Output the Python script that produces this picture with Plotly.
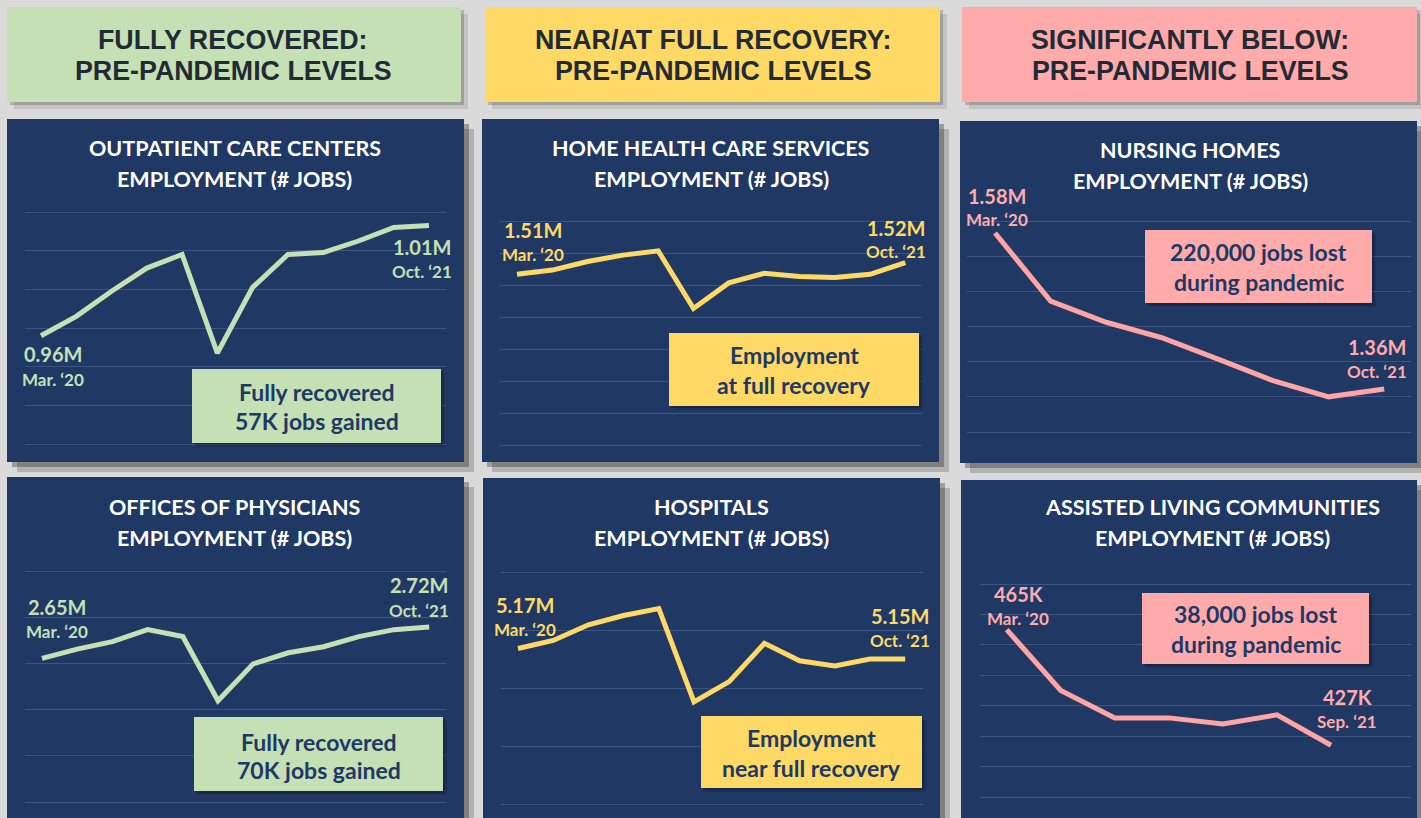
import plotly.graph_objects as go

W, H = 1421, 818

# ---------------- data (thousands of jobs) ----------------
outpatient = [956, 966, 979, 991, 998, 947, 981, 998, 999, 1005, 1012, 1013]
home_health = [1510, 1514, 1522, 1528, 1532, 1478, 1502, 1511, 1508, 1507, 1510, 1521]
nursing = [1583, 1486, 1456, 1434, 1404, 1373, 1350, 1361]
physicians = [2651, 2671, 2687, 2713, 2698, 2559, 2639, 2663, 2676, 2698, 2713, 2719]
hospitals = [5168, 5182, 5209, 5225, 5237, 5076, 5111, 5177, 5147, 5138, 5150, 5150]
assisted = [465, 445, 436, 436, 434, 437, 427]

series = [outpatient, home_health, nursing, physicians, hospitals, assisted]

headers = [
    ["FULLY RECOVERED:", "PRE-PANDEMIC LEVELS"],
    ["NEAR/AT FULL RECOVERY:", "PRE-PANDEMIC LEVELS"],
    ["SIGNIFICANTLY BELOW:", "PRE-PANDEMIC LEVELS"],
]
titles = [
    ["OUTPATIENT CARE CENTERS", "EMPLOYMENT (# JOBS)"],
    ["HOME HEALTH CARE SERVICES", "EMPLOYMENT (# JOBS)"],
    ["NURSING HOMES", "EMPLOYMENT (# JOBS)"],
    ["OFFICES OF PHYSICIANS", "EMPLOYMENT (# JOBS)"],
    ["HOSPITALS", "EMPLOYMENT (# JOBS)"],
    ["ASSISTED LIVING COMMUNITIES", "EMPLOYMENT (# JOBS)"],
]
start_values = ["0.96M", "1.51M", "1.58M", "2.65M", "5.17M", "465K"]
start_dates = ["Mar. \u201820"] * 6
end_values = ["1.01M", "1.52M", "1.36M", "2.72M", "5.15M", "427K"]
end_dates = ["Oct. \u201821", "Oct. \u201821", "Oct. \u201821", "Oct. \u201821", "Oct. \u201821", "Sep. \u201821"]
callouts = [
    ["Fully recovered", "57K jobs gained"],
    ["Employment", "at full recovery"],
    ["220,000 jobs lost", "during pandemic"],
    ["Fully recovered", "70K jobs gained"],
    ["Employment", "near full recovery"],
    ["38,000 jobs lost", "during pandemic"],
]
grid_values = [(900, 1020, 20), (1350, 1560, 30), (1300, 1600, 50),
               (2340, 2840, 100), (4900, 5300, 100), (410, 480, 10)]

# ---------------- styling / layout ----------------
NAVY = "#203864"
GREEN = "#c5e0b4"
YELLOW = "#ffd966"
PINK = "#ffabab"
PINK_LINE = "#ffa5a5"
GRID = "#3e5482"
HEAD_TXT = "#222a35"
col_colors = [GREEN, YELLOW, PINK]
panel_color = [GREEN, YELLOW, PINK_LINE, GREEN, YELLOW, PINK_LINE]
label_color = [GREEN, YELLOW, PINK, GREEN, YELLOW, PINK]

header_boxes = [(7, 7, 461, 102), (485, 7, 940, 102), (962, 7, 1417, 102)]
header_text_pos = [(233, 40, 71), (713, 40, 71), (1190, 40, 71)]
panel_boxes = [(7, 119, 464, 462), (482, 119, 939, 462), (960, 121, 1417, 463),
               (7, 477, 464, 840), (483, 478, 940, 840), (961, 480, 1417, 840)]
# plot area: gridline left, right, top, bottom; first point x, spacing
plot_geo = [
    (25, 446, 212, 444, 41, 35.27),
    (499, 922, 221, 445, 517, 35.3),
    (967, 1411, 221, 432, 995, 55.6),
    (25, 446, 571, 802, 42, 35.2),
    (501, 923, 572, 804, 518, 35.2),
    (980, 1411, 584, 797, 1006.7, 54.05),
]
title_pos = [(235, 148, 179), (711, 148, 179), (1190, 150, 181),
             (235, 507, 538), (712, 507, 538), (1212, 507, 538)]
start_pos = [(53, 354, 379), (533, 230, 254), (997, 196, 219),
             (57, 607, 631), (525, 605, 629), (1018, 594, 618)]
end_pos = [(422, 247, 271), (896, 228, 251), (1377, 347, 371),
           (419, 585, 610), (900, 616, 640), (1347, 697, 721)]
callout_boxes = [(192, 369, 441, 443), (669, 333, 919, 406), (1145, 230, 1372, 303),
                 (194, 717, 443, 791), (701, 716, 922, 788), (1142, 593, 1369, 664)]
callout_text_y = [(392, 421), (355, 385), (252, 282), (742, 770), (738, 768), (614, 644)]


def px(x):
    return x / W


def py(y):
    return 1 - y / H


fig = go.Figure()
shapes = []
annotations = []


def rect(x0, y0, x1, y1, color, layer="below"):
    shapes.append(dict(type="rect", xref="paper", yref="paper",
                       x0=px(x0), x1=px(x1), y0=py(y1), y1=py(y0),
                       fillcolor=color, line=dict(width=0), layer=layer))


def shadowed(x0, y0, x1, y1, color, layer="below", s=(6, 3), a=(0.10, 0.16)):
    rect(x0 + s[0], y0 + s[0], x1 + s[0], y1 + s[0], "rgba(0,0,0,%g)" % a[0], layer)
    rect(x0 + s[1], y0 + s[1], x1 + s[1], y1 + s[1], "rgba(0,0,0,%g)" % a[1], layer)
    rect(x0, y0, x1, y1, color, layer)


def text(x, y, s, size, color, family="Lato", bold=True):
    annotations.append(dict(xref="paper", yref="paper", x=px(x), y=py(y),
                            text=("<b>%s</b>" % s) if bold else s, showarrow=False,
                            xanchor="center", yanchor="middle",
                            font=dict(family=family, size=size, color=color)))


# headers
for i, (box, lines) in enumerate(zip(header_boxes, headers)):
    shadowed(*box, col_colors[i], s=(7, 3), a=(0.10, 0.18))
    cx, y1, y2 = header_text_pos[i]
    text(cx, y1, lines[0], 26.8, HEAD_TXT, family="Liberation Sans, Arial")
    text(cx, y2, lines[1], 26.8, HEAD_TXT, family="Liberation Sans, Arial")

layout_axes = {}
for k in range(6):
    shadowed(*panel_boxes[k], NAVY, s=(10, 5), a=(0.18, 0.28))
    gl, gr, gt, gb, x0, dx = plot_geo[k]
    lo, hi, step = grid_values[k]
    ppk = (gb - gt) / (hi - lo)
    pad = 3
    n = k + 1
    xa = "xaxis" if n == 1 else "xaxis%d" % n
    ya = "yaxis" if n == 1 else "yaxis%d" % n
    layout_axes[xa] = dict(domain=[px(gl), px(gr)],
                           range=[(gl - x0) / dx, (gr - x0) / dx],
                           showgrid=False, zeroline=False, showticklabels=False,
                           ticks="", showline=False, anchor="y" if n == 1 else "y%d" % n)
    layout_axes[ya] = dict(domain=[py(gb + pad), py(gt - pad)],
                           range=[lo - pad / ppk, hi + pad / ppk],
                           tick0=lo, dtick=step, showgrid=True, gridcolor=GRID, gridwidth=1,
                           zeroline=False, showticklabels=False, ticks="", showline=False,
                           anchor="x" if n == 1 else "x%d" % n)
    vals = series[k]
    fig.add_trace(go.Scatter(x=list(range(len(vals))), y=vals, mode="lines",
                             line=dict(color=panel_color[k], width=5),
                             xaxis="x" if n == 1 else "x%d" % n,
                             yaxis="y" if n == 1 else "y%d" % n,
                             hoverinfo="skip", showlegend=False))
    # titles
    tx, t1, t2 = title_pos[k]
    text(tx, t1, titles[k][0], 21.5, "#ffffff")
    text(tx, t2, titles[k][1], 21.5, "#ffffff")
    # start / end labels
    sx, sy1, sy2 = start_pos[k]
    text(sx, sy1, start_values[k], 20, label_color[k])
    text(sx, sy2, start_dates[k], 17, label_color[k])
    ex, ey1, ey2 = end_pos[k]
    text(ex, ey1, end_values[k], 20, label_color[k])
    text(ex, ey2, end_dates[k], 17, label_color[k])
    # callout
    cb = callout_boxes[k]
    shadowed(*cb, label_color[k] if k % 3 != 2 else PINK, layer="above", s=(4, 2), a=(0.12, 0.2))
    cx = (cb[0] + cb[2]) / 2
    c1, c2 = callout_text_y[k]
    text(cx, c1, callouts[k][0], 23, NAVY)
    text(cx, c2, callouts[k][1], 23, NAVY)

fig.update_layout(
    width=W, height=H,
    margin=dict(l=0, r=0, t=0, b=0),
    paper_bgcolor="#dadada",
    plot_bgcolor="rgba(0,0,0,0)",
    shapes=shapes,
    annotations=annotations,
    showlegend=False,
    **layout_axes,
)

fig.write_html("out.html", config={"displayModeBar": False},
               post_script="document.body.style.margin='0px';document.body.style.overflow='hidden';")
